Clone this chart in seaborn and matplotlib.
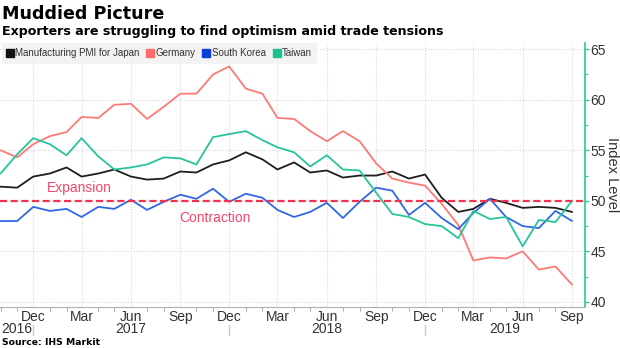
import matplotlib
matplotlib.use("Agg")
import matplotlib.pyplot as plt
import matplotlib.dates as mdates
import matplotlib.transforms as mtrans
from matplotlib.lines import Line2D
from matplotlib.ticker import MultipleLocator
import pandas as pd
import seaborn as sns

# ---------------- data ----------------
months = pd.date_range("2016-10-01", "2019-09-01", freq="MS")
japan = [51.4, 51.3, 52.4, 52.7, 53.3, 52.4, 52.7, 53.1, 52.4, 52.1, 52.2, 52.9,
         52.8, 53.6, 54.0, 54.8, 54.1, 53.1, 53.8, 52.8, 53.0, 52.3, 52.5, 52.5,
         52.9, 52.2, 52.6, 50.3, 48.9, 49.2, 50.2, 49.8, 49.3, 49.4, 49.3, 48.9]
germany = [55.0, 54.3, 55.6, 56.4, 56.8, 58.3, 58.2, 59.5, 59.6, 58.1, 59.3, 60.6,
           60.6, 62.5, 63.3, 61.1, 60.6, 58.2, 58.1, 56.9, 55.9, 56.9, 55.9, 53.7,
           52.2, 51.8, 51.5, 49.7, 47.6, 44.1, 44.4, 44.3, 45.0, 43.2, 43.5, 41.7]
korea = [48.0, 48.0, 49.4, 49.0, 49.2, 48.4, 49.4, 49.2, 50.1, 49.1, 49.9, 50.6,
         50.2, 51.2, 49.9, 50.7, 50.3, 49.1, 48.4, 48.9, 49.8, 48.3, 49.9, 51.3,
         51.0, 48.6, 49.8, 48.3, 47.2, 48.8, 50.2, 48.4, 47.5, 47.3, 49.0, 48.0]
taiwan = [52.7, 54.6, 56.2, 55.6, 54.5, 56.2, 54.4, 53.1, 53.3, 53.6, 54.3, 54.2,
          53.6, 56.3, 56.6, 56.9, 56.0, 55.3, 54.8, 53.4, 54.5, 53.1, 53.0, 50.8,
          48.7, 48.4, 47.7, 47.5, 46.3, 49.0, 48.2, 48.4, 45.5, 48.1, 47.9, 50.0]
series_names = ["Manufacturing PMI for Japan", "Germany", "South Korea", "Taiwan"]
year_labels = ["2016", "2017", "2018", "2019"]
title = "Muddied Picture"
subtitle = "Exporters are struggling to find optimism amid trade tensions"
source = "Source: IHS Markit"
y_label = "Index Level"
threshold = 50

# ---------------- style ----------------
line_colors = ["#1e1e1e", "#ff7a74", "#3068e4", "#27c49c"]
legend_colors = ["#111111", "#ff6b6b", "#0a3fd8", "#1dbf90"]
green_axis = "#2ec59c"
red_line = "#f0334f"
red_text = "#f2486a"
txt = "#333333"
reg_font = ["Liberation Sans", "DejaVu Sans"]
bold_font = ["DejaVu Sans"]

sns.set_theme(style="white")
plt.rcParams["font.family"] = reg_font

df = pd.DataFrame({
    "month": list(months) * 4,
    "value": japan + germany + korea + taiwan,
    "series": sum([[n] * len(months) for n in series_names], []),
})

fig = plt.figure(figsize=(6.2, 3.48), dpi=100)
ax = fig.add_axes([0.0, 0.118, 0.9435, 0.758])

sns.lineplot(data=df, x="month", y="value", hue="series", hue_order=series_names,
             palette=dict(zip(series_names, line_colors)), linewidth=1.3,
             legend=False, ax=ax)

ax.axhline(threshold, color=red_line, linestyle=(0, (3.2, 1.6)), linewidth=1.6, zorder=5)

x0 = months[0] - pd.Timedelta(days=1)
x1 = months[-1] + pd.Timedelta(days=24)
ax.set_xlim(x0, x1)
ax.set_ylim(39.5, 65.6)

# y axis on right
ax.yaxis.tick_right()
ax.yaxis.set_major_locator(MultipleLocator(5))
ax.yaxis.set_minor_locator(MultipleLocator(2.5))
ax.tick_params(axis="y", which="major", colors=green_axis, labelcolor=txt,
               length=3, width=1, labelsize=10, pad=1, right=True, left=False)
ax.tick_params(axis="y", which="minor", colors=green_axis, length=2, width=0.8,
               right=True, left=False)
ax.set_ylabel("")
fig.text(612 / 620, 0.118 + 0.758 / 2, y_label, rotation=270, fontsize=10.5, color=txt,
         ha="center", va="center")

# x axis
ax.xaxis.set_major_locator(mdates.MonthLocator(bymonth=[3, 6, 9, 12]))
ax.xaxis.set_major_formatter(mdates.DateFormatter("%b"))
ax.xaxis.set_minor_locator(mdates.MonthLocator())
ax.tick_params(axis="x", which="major", length=0, labelsize=10, labelcolor=txt, pad=2)
ax.tick_params(axis="x", which="minor", bottom=True, length=3, width=0.7, color="#aaaaaa")
ax.set_xlabel("")

for s in ["left", "top"]:
    ax.spines[s].set_visible(False)
ax.spines["right"].set_color(green_axis)
ax.spines["right"].set_linewidth(1.2)
ax.spines["bottom"].set_color("#b0b0b0")
ax.spines["bottom"].set_linewidth(0.8)

ax.grid(True, which="major", color="#d9d9d9", linestyle=(0, (1, 1.5)), linewidth=0.8)
ax.set_axisbelow(True)

# year labels and separators
trans = mtrans.blended_transform_factory(ax.transData, ax.transAxes)
seps = [pd.Timestamp("2016-12-01"), pd.Timestamp("2017-12-01"), pd.Timestamp("2018-12-01")]
bounds = [x0] + seps + [x1]
for i, lab in enumerate(year_labels):
    a, b = bounds[i], bounds[i + 1]
    mid = a + (b - a) / 2
    ax.text(mid, -0.085, lab, transform=trans, ha="center", va="center",
            fontsize=10, color=txt)
for s in seps:
    ax.add_line(Line2D([s, s], [-0.068, -0.108], transform=trans, color="#c8c8c8",
                       linewidth=1.0, clip_on=False))

# annotations
ax.text(pd.Timestamp("2017-02-25"), 51.3, "Expansion", color=red_text, fontsize=10,
        ha="center", va="center")
ax.text(pd.Timestamp("2017-11-05"), 48.3, "Contraction", color=red_text, fontsize=10,
        ha="center", va="center")

# legend
handles = [Line2D([], [], marker="s", linestyle="", markersize=5.5, color=c)
           for c in legend_colors]
leg = ax.legend(handles, series_names, loc="upper left", bbox_to_anchor=(0.003, 1.0),
                ncol=4, frameon=True, fontsize=7, handlelength=0.6, handletextpad=0.25,
                columnspacing=0.8, borderpad=0.55, borderaxespad=0.0)
leg.get_frame().set_facecolor("#f0f0f0")
leg.get_frame().set_edgecolor("none")
leg.get_frame().set_boxstyle("square", pad=0)
for t in leg.get_texts():
    t.set_color(txt)

# titles
fig.text(0.004, 1 - 19 / 348, title, fontsize=12.6, fontweight="bold", ha="left",
         va="baseline", color="black", family=bold_font)
fig.text(0.004, 1 - 35 / 348, subtitle, fontsize=9.1, fontweight="bold", ha="left",
         va="baseline", color="black", family=bold_font)
fig.text(0.004, 1 - 345 / 348, source, fontsize=6.7, fontweight="bold", ha="left",
         va="baseline", color="black", family=bold_font)

fig.savefig("out.png", dpi=100)
